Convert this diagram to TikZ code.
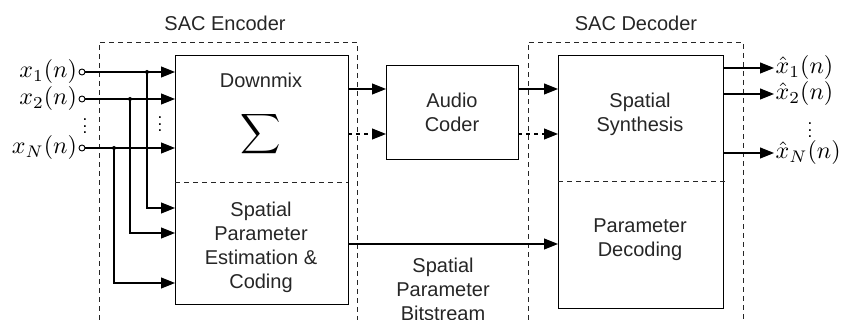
\documentclass[tikz,border=0pt]{standalone}
\usepackage{amsmath}
\usepackage{fontspec}
\setmainfont{Liberation Sans}
\usetikzlibrary{arrows.meta}
\begin{document}
\begin{tikzpicture}[x=1pt,y=-1pt,
  blk/.style={draw, line width=1.1pt, rectangle, inner sep=0pt},
  dbox/.style={draw, line width=0.9pt, dash pattern=on 5pt off 4pt, color=black!85},
  divd/.style={draw, line width=0.9pt, dash pattern=on 5pt off 4pt, color=black!85},
  arr/.style={draw, line width=1.1pt, -{Triangle[length=14pt,width=11pt]}},
  darr/.style={draw, line width=1.1pt, dash pattern=on 4pt off 4pt, -{Triangle[length=14pt,width=11pt]}},
  port/.style={circle, draw, line width=0.9pt, inner sep=0pt, minimum size=6pt, fill=white},
  txt/.style={font=\fontsize{20}{24}\selectfont, align=center, text=black!85},
  mlab/.style={inner sep=0.5pt, scale=2.4},
  vd/.style={inner sep=0pt, scale=1.7}]
\useasboundingbox (0,0) rectangle (846,320);

% dashed enclosures
\draw[dbox] (99,320) -- (99,42) -- (357,42) -- (357,320);
\draw[dbox] (528,320) -- (528,42) -- (743,42) -- (743,320);
\node[txt] (enctitle) at (225,23) {SAC Encoder};
\node[txt] (dectitle) at (636,23) {SAC Decoder};

% blocks
\node[blk, anchor=north west, minimum width=173pt, minimum height=249pt] (enc) at (175,55) {};
\node[blk, anchor=north west, minimum width=132pt, minimum height=94pt] (aud) at (386,65) {};
\node[blk, anchor=north west, minimum width=165pt, minimum height=253pt] (dec) at (558,55) {};
\draw[divd] (175,182) -- (348,182);
\draw[divd] (558,181) -- (727,181);

% block texts
\node[txt] (dm) at (261,80) {Downmix};
\node[inner sep=0pt, scale=2.8] (sig) at (261,134) {$\displaystyle\sum$};
\node[txt] (spe) at (261,247) {Spatial\\Parameter\\Estimation \&\\Coding};
\node[txt] (ac) at (452,112) {Audio\\Coder};
\node[txt] (ss) at (640,114) {Spatial\\Synthesis};
\node[txt] (pd) at (640,240) {Parameter\\Decoding};
\node[txt] (bs) at (443,289) {Spatial\\Parameter\\Bitstream};

% inputs
\node[port] (i1) at (82,72) {};
\node[port] (i2) at (82,99) {};
\node[port] (iN) at (82,148) {};
\node[mlab, anchor=east] (l1) at (i1.west) {$x_1(n)$};
\node[mlab, anchor=east] (l2) at (i2.west) {$x_2(n)$};
\node[mlab, anchor=east] (lN) at (iN.west) {$x_N(n)$};
\node[vd] (vd1) at (85,121) {$\vdots$};
\node[vd] (vd2) at (160,119) {$\vdots$};

\coordinate (e1) at (175,72);
\coordinate (e2) at (175,99);
\coordinate (eN) at (175,148);
\coordinate (j1) at (147,72);
\coordinate (j2) at (130,99);
\coordinate (jN) at (114,148);
\coordinate (f1) at (175,208);
\coordinate (f2) at (175,233);
\coordinate (fN) at (175,283);

\draw[arr] (i1) -- (e1);
\draw[arr] (i2) -- (e2);
\draw[arr] (iN) -- (eN);
\draw[arr] (j1) |- (f1);
\draw[arr] (j2) |- (f2);
\draw[arr] (jN) |- (fN);
\fill (j1) circle (2pt);
\fill (j2) circle (2pt);
\fill (jN) circle (2pt);

% encoder -> audio coder
\coordinate (a1) at (386,89);
\coordinate (a2) at (386,134);
\coordinate (s1) at (348,89);
\coordinate (s2) at (348,134);
\draw[arr] (s1) -- (a1);
\draw[darr] (s2) -- (a2);

% audio coder -> decoder
\coordinate (b1) at (518,89);
\coordinate (b2) at (518,134);
\coordinate (d1) at (558,89);
\coordinate (d2) at (558,134);
\draw[arr] (b1) -- (d1);
\draw[darr] (b2) -- (d2);

% bitstream
\coordinate (p1) at (348,244);
\coordinate (p2) at (558,244);
\draw[arr] (p1) -- (p2);

% outputs
\node[mlab, anchor=west] (o1) at (774,68) {$\hat{x}_1(n)$};
\node[mlab, anchor=west] (o2) at (774,94) {$\hat{x}_2(n)$};
\node[mlab, anchor=west] (oN) at (774,153) {$\hat{x}_N(n)$};
\node[vd] (vd3) at (810,125) {$\vdots$};
\coordinate (q1) at (723,68);
\coordinate (q2) at (723,94);
\coordinate (qN) at (723,153);
\draw[arr] (q1) -- (o1.west);
\draw[arr] (q2) -- (o2.west);
\draw[arr] (qN) -- (oN.west);
\end{tikzpicture}
\end{document}
